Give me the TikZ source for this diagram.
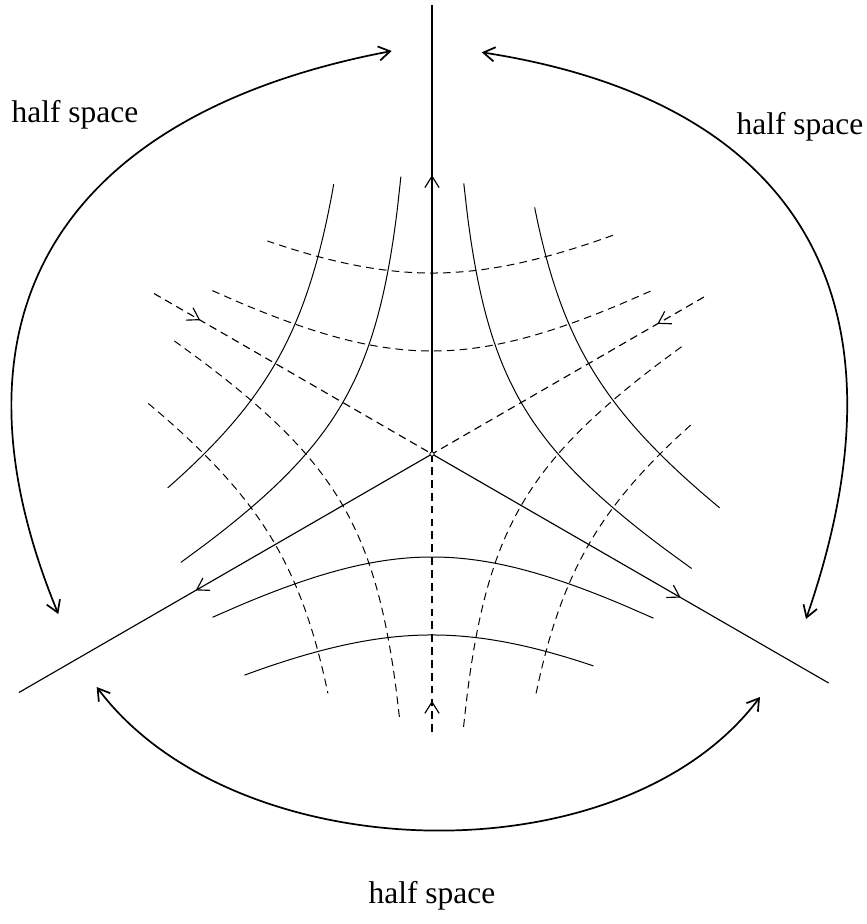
\documentclass[tikz,border=0pt]{standalone}
\usepackage{fontspec}
\setmainfont{Liberation Serif}
\usetikzlibrary{arrows.meta,decorations.markings}
\begin{document}
\begin{tikzpicture}[x=0.35pt,y=0.35pt,
  mybarb/.tip={Straight Barb[length=4pt,width=5pt]},
  ray/.style={line width=0.4pt},
  dray/.style={line width=0.4pt, dash pattern=on 2.7pt off 1.8pt},
  hcurve/.style={line width=0.35pt},
  dcurve/.style={line width=0.35pt, dash pattern=on 2.7pt off 1.8pt},
  bigarrow/.style={line width=0.6pt, mybarb-mybarb},
  hslabel/.style={font=\fontsize{11}{13}\selectfont, inner sep=0pt},
  midarrow/.style={postaction={decorate}, decoration={markings, mark=at position #1 with {\arrow{mybarb}}}},
]
\useasboundingbox (-432,-470) rectangle (435,454);
\coordinate (C) at (0,0);
\coordinate (N) at (90:449);
\coordinate (SW) at (210:477);
\coordinate (SE) at (330:458);
\coordinate (S) at (270:278);
\coordinate (NW) at (150:321);
\coordinate (NE) at (30:314);

% solid rays (arrows outward)
\draw[ray, midarrow=97.6pt] (C) -- (N);
\draw[ray, midarrow=95.5pt] (C) -- (SW);
\draw[ray, midarrow=100.5pt] (C) -- (SE);
% dashed rays (arrows inward)
\draw[dray, midarrow=10.9pt] (S) -- (C);
\draw[dray, midarrow=18.7pt] (NW) -- (C);
\draw[dray, midarrow=18.8pt] (NE) -- (C);

% inner curves
\foreach \rot/\a/\b in {30/-53.8/53.3, 150/-53.6/53.35, 270/-53.35/53.45}
  \draw[hcurve, rotate=\rot] plot[domain=\a:\b, samples=60, smooth, variable=\t]
    ({103*cos(\t)/sqrt((1+2*cos(2*\t))/3)}, {103*sin(\t)/sqrt((1+2*cos(2*\t))/3)});
\foreach \rot/\a/\b in {90/-53.3/53.55, 210/-53.7/53.1, 330/-53.4/53.35}
  \draw[dcurve, rotate=\rot] plot[domain=\a:\b, samples=60, smooth, variable=\t]
    ({103*cos(\t)/sqrt((1+2*cos(2*\t))/3)}, {103*sin(\t)/sqrt((1+2*cos(2*\t))/3)});
% outer curves
\foreach \rot/\a/\b in {30/-40.6/37.4, 150/-40/37.3, 270/-40.3/37.3}
  \draw[hcurve, rotate=\rot] plot[domain=\a:\b, samples=60, smooth, variable=\t]
    ({181*cos(\t)/pow(cos(1.5*\t),2/3)}, {181*sin(\t)/pow(cos(1.5*\t),2/3)});
\foreach \rot/\a/\b in {90/-39.6/37.7, 210/-40.1/36.5, 330/-36.5/37}
  \draw[dcurve, rotate=\rot] plot[domain=\a:\b, samples=60, smooth, variable=\t]
    ({181*cos(\t)/pow(cos(1.5*\t),2/3)}, {181*sin(\t)/pow(cos(1.5*\t),2/3)});

\node[circle, draw, fill=white, inner sep=0pt, minimum size=1.5pt, line width=0.3pt] (O) at (C) {};

% half-space arrows (pixel x-432, 454-y)
\coordinate (L1) at (-40.3,403);
\coordinate (L2) at (-373.7,-160);
\coordinate (R1) at (49.7,401.7);
\coordinate (R2) at (374,-165);
\coordinate (B1) at (-335.3,-233);
\coordinate (B2) at (328,-243);
\draw[bigarrow] (L1) .. controls (-353.6,343.5) and (-502.9,154.5) .. (L2);
\draw[bigarrow] (R1) .. controls (365.9,352.7) and (485.5,156.3) .. (R2);
\draw[bigarrow] (B1) .. controls (-197.3,-417) and (190,-427) .. (B2);

\node[hslabel] (tl) at (-357,339) {half space};
\node[hslabel] (tr) at (368,327) {half space};
\node[hslabel] (tb) at (0,-442) {half space};
\end{tikzpicture}
\end{document}
